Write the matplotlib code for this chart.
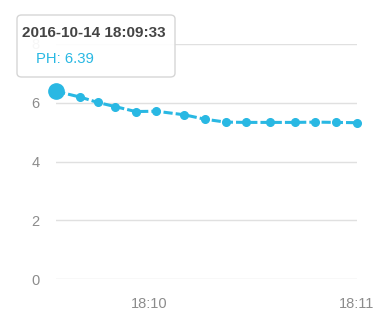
import matplotlib.pyplot as plt
import matplotlib.dates as mdates
from matplotlib.patches import FancyBboxPatch
import pandas as pd

plt.rcParams['font.family'] = ['Liberation Sans', 'DejaVu Sans']

times = ['18:09:33', '18:09:40', '18:09:45', '18:09:50', '18:09:56', '18:10:02',
         '18:10:10', '18:10:16', '18:10:22', '18:10:28', '18:10:35', '18:10:42',
         '18:10:48', '18:10:54', '18:11:00']
ph = [6.39, 6.19, 6.01, 5.87, 5.70, 5.71, 5.59, 5.44, 5.34, 5.33, 5.33, 5.33, 5.34, 5.33, 5.32]
y_ticks = [0, 2, 4, 6, 8]
color = '#29b8e3'

t = pd.to_datetime(['2016-10-14 ' + s for s in times])

fig = plt.figure(figsize=(3.9, 3.23), dpi=100)
ax = fig.add_axes([0.144, 0.136, 0.771, 0.728])

ax.plot(t, ph, color=color, lw=2.2, ls=(0, (3, 1)), marker='o', ms=5.5,
        zorder=3, clip_on=False)
ax.plot(t[0], ph[0], 'o', color=color, ms=11, zorder=4, clip_on=False)

ax.set_xlim(t[0], t[-1])
ax.set_ylim(0, 8)
ax.set_yticks(y_ticks)
ax.grid(axis='y', color='#e0e0e0', lw=1)
ax.set_axisbelow(True)
for s in ax.spines.values():
    s.set_visible(False)
ax.tick_params(length=0, colors='#8c8c8c', labelsize=10.5)
ax.tick_params(axis='y', pad=12)
ax.tick_params(axis='x', pad=13)
ax.xaxis.set_major_locator(mdates.MinuteLocator())
ax.xaxis.set_major_formatter(mdates.DateFormatter('%H:%M'))

# tooltip, drawn over the "8" label like the hover box in the original
box = FancyBboxPatch((17 / 390, 1 - 77 / 323), 158 / 390, 62 / 323,
                     boxstyle='round,pad=0,rounding_size=0.012',
                     transform=fig.transFigure, facecolor=(1, 1, 1, 0.93),
                     edgecolor='#d6d6d6', lw=1, zorder=10)
fig.patches.append(box)
fig.text(22 / 390, 1 - 33 / 323, '2016-10-14 18:09:33', fontsize=11,
         fontweight='bold', color='#444444', va='center', zorder=11)
fig.text(36 / 390, 1 - 59 / 323, 'PH: 6.39', fontsize=10.7, color=color,
         va='center', zorder=11)

plt.savefig('out.png')
